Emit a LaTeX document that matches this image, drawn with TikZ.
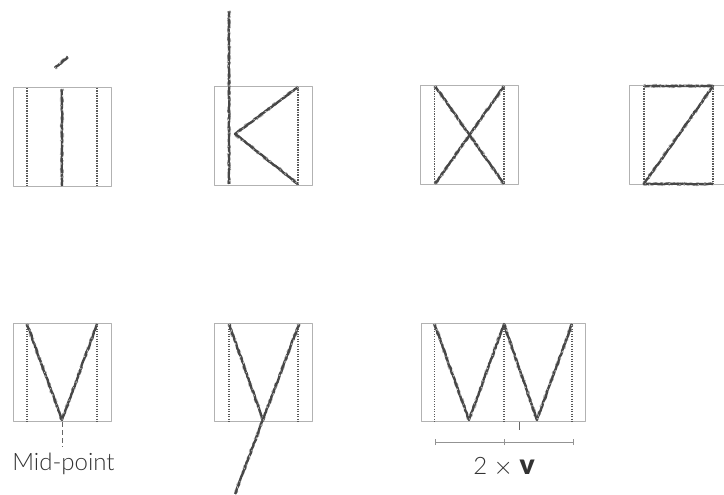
\documentclass[tikz,border=0pt]{standalone}
\usepackage{fontspec}
\setmainfont{Lato}[UprightFont=* Light,BoldFont=* Black]
\usetikzlibrary{decorations.pathmorphing}
\begin{document}
\begin{tikzpicture}[x=1pt, y=-1pt, line join=round,
  guidebox/.style={draw=gray!60, line width=1pt},
  guideline/.style={draw=black!65, line width=1.5pt, dash pattern=on 1.3pt off 1.2pt},
  chalkbase/.style={draw=black!72, line width=2.4pt, decorate, decoration={random steps, segment length=2pt, amplitude=0.4pt}},
  chalkgrain/.style={draw=white, line width=0.8pt, opacity=0.65, dash pattern=on 1.2pt off 5pt on 2pt off 9pt on 1pt off 3pt on 1.5pt off 13pt, decorate, decoration={random steps, segment length=2.5pt, amplitude=1pt}},
  chalkedge/.style={draw=black!30, line width=3.6pt, dash pattern=on 2pt off 7pt on 4pt off 3pt on 1pt off 11pt on 3pt off 5pt, decorate, decoration={random steps, segment length=2.5pt, amplitude=0.5pt}},
  rulerline/.style={draw=gray!85, line width=1pt},
  caption/.style={inner sep=0pt, text=black!80, font=\fontsize{24}{24}\selectfont}]
 \pgfmathsetseed{42}
 \useasboundingbox (0,0) rectangle (724,495);
 % Ô vuông cho từng chữ
 \foreach \bx/\by/\bw in {13.5/88/98, 214.5/87/98, 420.5/86/98, 629/86/98, 13.5/323.5/98, 214.5/323.5/98, 421/323.5/164}
  \draw[guidebox] (\bx,\by) rectangle ++(\bw,98);
 % Đường chấm đứng
 \foreach \gx/\gtop/\gbot in {27/88/186, 97/88/186, 298/87/185, 434.5/86/184, 504/86/184, 644/86/184, 713/86/184, 27/323.5/421.5, 97/323.5/421.5, 229/323.5/421.5, 298/323.5/421.5, 434.5/323.5/421.5, 504/323.5/421.5, 572/323.5/421.5}
  \draw[guideline] (\gx,\gtop) -- (\gx,\gbot);
 % Các nét chữ
 \foreach \strokepath in {
   {(55,68) -- (68,57)}, {(62,89) -- (62,186)},
   {(229,11) -- (229,184)}, {(298,87) -- (235,134) -- (298,184)},
   {(435,86) -- (504,184)}, {(504,86) -- (435,184)},
   {(644,86) -- (713,86) -- (644,184) -- (713,184)},
   {(27,324) -- (62,420) -- (97,324)},
   {(229,324) -- (263,420)}, {(299,324) -- (235,494)},
   {(434.5,324) -- (469,420) -- (504,324) -- (537,420) -- (572,324)}} {
  \draw[chalkedge] \strokepath;
  \draw[chalkbase] \strokepath;
  \draw[chalkgrain] \strokepath;
 }
 % Nhãn điểm giữa
 \coordinate (vmid) at (62,422);
 \coordinate (vdrop) at (62,447);
 \draw[draw=black!60, line width=0.7pt, dash pattern=on 5pt off 3pt] (vmid) -- (vdrop);
 \node[caption, anchor=base] (midlabel) at (63.5,470) {Mid-point};
 % Thước đo 2v
 \coordinate (wmark) at (519,422);
 \coordinate (wmarkend) at (519,430);
 \draw[draw=black!60, line width=0.7pt] (wmark) -- (wmarkend);
 \coordinate (rulerl) at (435,442);
 \coordinate (rulerm) at (504,442);
 \coordinate (rulerr) at (573,442);
 \draw[rulerline] (rulerl) -- (rulerr);
 \foreach \tick in {rulerl, rulerm, rulerr}
  \draw[rulerline] ([yshift=-3pt]\tick) -- ([yshift=3pt]\tick);
 \node[caption, anchor=base] (twov) at (504,474) {2 $\times$ {\fontsize{28}{28}\selectfont\textbf{v}}};
\end{tikzpicture}
\end{document}
